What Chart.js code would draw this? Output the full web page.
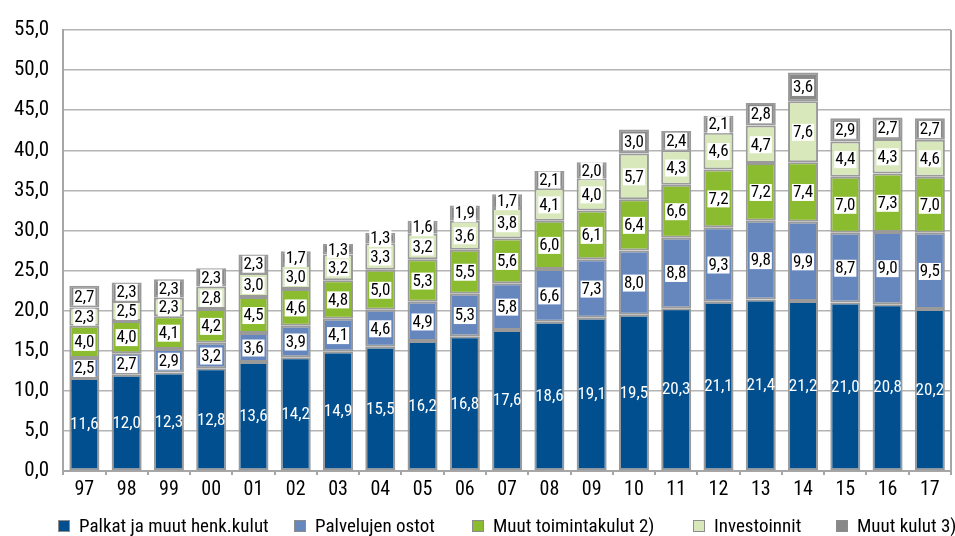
<!DOCTYPE html>
<html>
<head>
<meta charset="utf-8">
<script src="https://cdn.jsdelivr.net/npm/chart.js@4"></script>
<style>
  html, body { margin: 0; padding: 0; background: #fff; }
  #wrap { position: relative; width: 955px; height: 536px; }
  #legend { position: absolute; left: 0; top: 514px; width: 955px; height: 24px;
            font-family: 'Roboto Condensed', sans-serif; font-size: 19px; color: #000; }
  .item { position: absolute; top: 0; white-space: nowrap; line-height: 24px; }
  .box { display: inline-block; width: 10px; height: 10px; border: 1px solid #8c8c8c;
         margin-right: 9px; vertical-align: 0px; }
</style>
</head>
<body>
<div id="wrap"><canvas id="chart"></canvas><div id="legend"></div></div>
<script>
const years = ['97','98','99','00','01','02','03','04','05','06','07','08','09','10','11','12','13','14','15','16','17'];
const palkat = [11.6,12.0,12.3,12.8,13.6,14.2,14.9,15.5,16.2,16.8,17.6,18.6,19.1,19.5,20.3,21.1,21.4,21.2,21.0,20.8,20.2];
const palvelut = [2.5,2.7,2.9,3.2,3.6,3.9,4.1,4.6,4.9,5.3,5.8,6.6,7.3,8.0,8.8,9.3,9.8,9.9,8.7,9.0,9.5];
const toimintakulut = [4.0,4.0,4.1,4.2,4.5,4.6,4.8,5.0,5.3,5.5,5.6,6.0,6.1,6.4,6.6,7.2,7.2,7.4,7.0,7.3,7.0];
const investoinnit = [2.3,2.5,2.3,2.8,3.0,3.0,3.2,3.3,3.2,3.6,3.8,4.1,4.0,5.7,4.3,4.6,4.7,7.6,4.4,4.3,4.6];
const muutKulut = [2.7,2.3,2.3,2.3,2.3,1.7,1.3,1.3,1.6,1.9,1.7,2.1,2.0,3.0,2.4,2.1,2.8,3.6,2.9,2.7,2.7];

const FONT = "'Roboto Condensed', sans-serif";
const legendLeft = [58, 294, 472, 693, 836];

function fmt(v) {
    return v.toFixed(1).replace('.', ',');
}

// arvot palkkien sisään
const labelPlugin = {
    id: 'segLabels',
    afterDatasetsDraw(chart) {
        const ctx = chart.ctx;
        ctx.save();
        ctx.font = '17px ' + FONT;
        ctx.textAlign = 'center';
        ctx.textBaseline = 'middle';
        chart.data.datasets.forEach((ds, i) => {
            const meta = chart.getDatasetMeta(i);
            meta.data.forEach((bar, j) => {
                const txt = fmt(ds.data[j]);
                const y = (bar.y + bar.base) / 2;
                if (i === 0) {
                    ctx.fillStyle = '#ffffff';
                    ctx.fillText(txt, bar.x, y + 1);
                } else {
                    const w = ctx.measureText(txt).width;
                    ctx.fillStyle = '#ffffff';
                    ctx.fillRect(bar.x - w / 2 - 1, y - 8, w + 2, 17);
                    ctx.fillStyle = '#000000';
                    ctx.fillText(txt, bar.x, y + 1);
                }
            });
        });
        ctx.restore();
    }
};

// oikea reuna
const framePlugin = {
    id: 'frame',
    beforeDatasetsDraw(chart) {
        const a = chart.chartArea;
        const ctx = chart.ctx;
        ctx.save();
        ctx.strokeStyle = '#a6a6a6';
        ctx.lineWidth = 2;
        ctx.beginPath();
        ctx.moveTo(a.right, a.top);
        ctx.lineTo(a.right, a.bottom);
        ctx.stroke();
        ctx.restore();
    }
};

function makeSet(label, data, color) {
    return {
        label: label,
        data: data,
        backgroundColor: color,
        borderColor: '#9a9a9a',
        borderWidth: 2,
        borderSkipped: false,
        barPercentage: 0.71,
        categoryPercentage: 1.0
    };
}

const chart = new Chart(document.getElementById('chart'), {
    type: 'bar',
    data: {
        labels: years,
        datasets: [
            makeSet('Palkat ja muut henk.kulut', palkat, '#014f8f'),
            makeSet('Palvelujen ostot', palvelut, '#6687bd'),
            makeSet('Muut toimintakulut 2)', toimintakulut, '#8bbb2f'),
            makeSet('Investoinnit', investoinnit, '#d8e8bb'),
            makeSet('Muut kulut 3)', muutKulut, '#888888')
        ]
    },
    options: {
        responsive: true,
        maintainAspectRatio: false,
        animation: false,
        layout: { padding: { top: 30, right: 4, left: 0, bottom: 31 } },
        plugins: {
            legend: { display: false },
            tooltip: { enabled: false }
        },
        scales: {
            x: {
                stacked: true,
                grid: { display: true, drawOnChartArea: false, offset: true, color: '#a6a6a6', lineWidth: 2, tickLength: 4 },
                border: { color: '#a6a6a6', width: 2 },
                ticks: { font: { family: FONT, size: 20 }, color: '#000', padding: 3 }
            },
            y: {
                stacked: true,
                min: 0,
                max: 55,
                ticks: {
                    stepSize: 5,
                    font: { family: FONT, size: 21 },
                    color: '#000',
                    padding: 14,
                    callback: v => fmt(v)
                },
                grid: { color: '#b4b4b4', lineWidth: 1.5, drawTicks: false },
                border: { color: '#a6a6a6', width: 2 }
            }
        }
    },
    plugins: [labelPlugin, framePlugin]
});

// selite kaavion alle
const legendEl = document.getElementById('legend');
chart.data.datasets.forEach((ds, i) => {
    const item = document.createElement('span');
    item.className = 'item';
    item.style.left = legendLeft[i] + 'px';
    const box = document.createElement('span');
    box.className = 'box';
    box.style.background = ds.backgroundColor;
    item.appendChild(box);
    item.appendChild(document.createTextNode(ds.label));
    legendEl.appendChild(item);
});
</script>
</body>
</html>
